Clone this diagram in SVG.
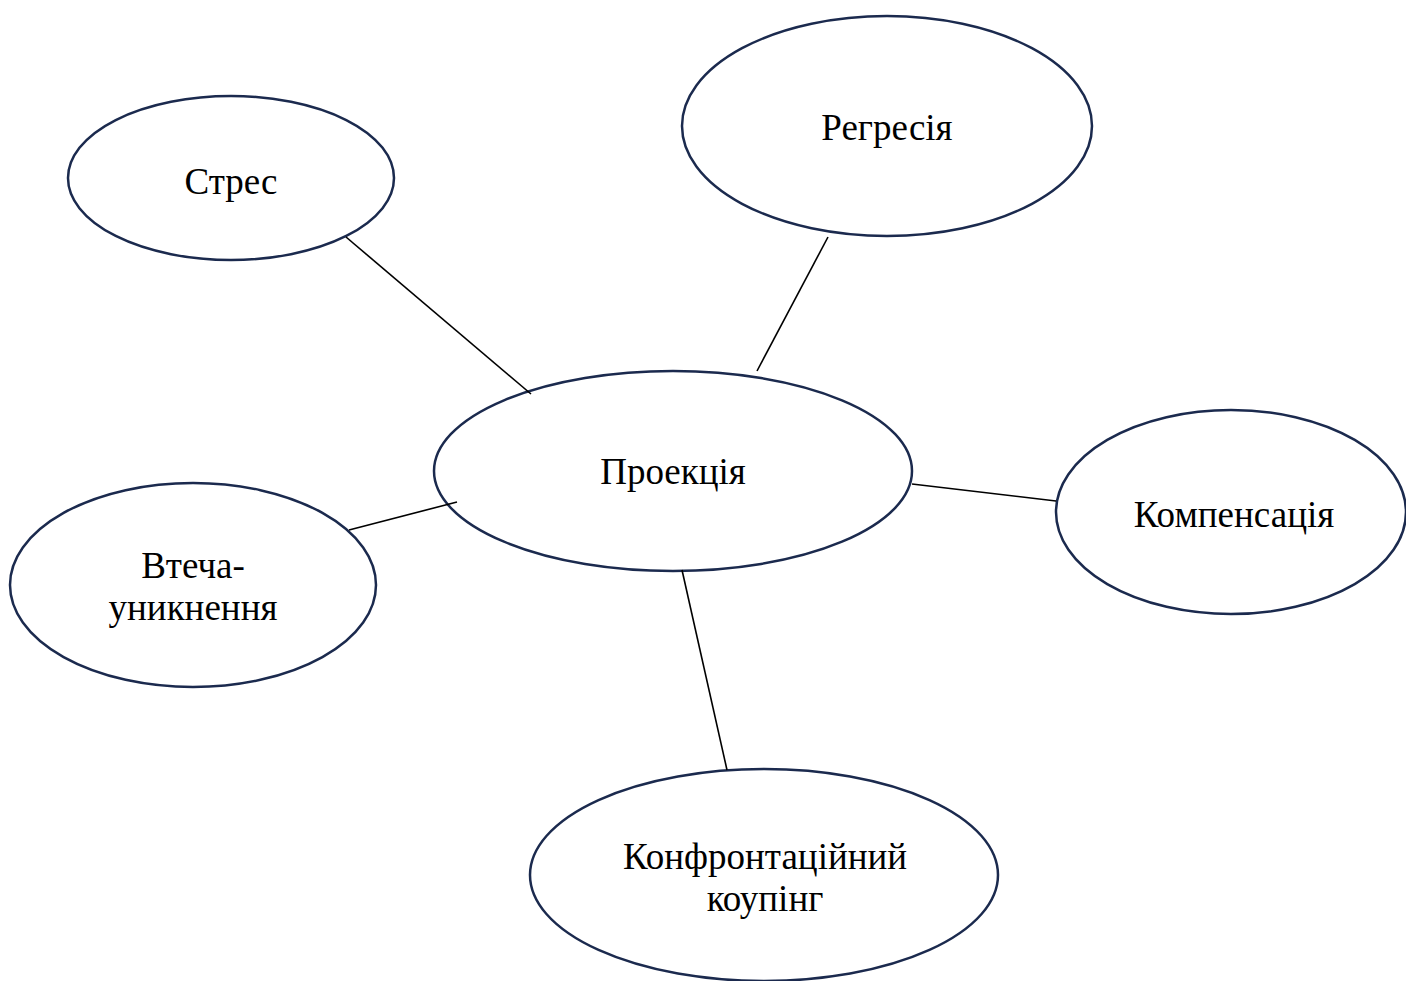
<svg xmlns="http://www.w3.org/2000/svg" width="1406" height="981" viewBox="0 0 1406 981">
<style>
.n{fill:#fff;stroke:#1b2a4e;stroke-width:2.5}
.t{font-family:"Liberation Serif","Times New Roman",serif;font-size:37px;fill:#000;text-anchor:middle}
.c{stroke:#000;stroke-width:1.6;fill:none}
</style>
<rect width="1406" height="981" fill="#fff"/>
<g id="stress"><ellipse class="n" cx="231" cy="178" rx="163" ry="82"/><text class="t" x="231" y="194">Стрес</text></g>
<g id="regression"><ellipse class="n" cx="887" cy="126" rx="205" ry="110"/><text class="t" x="887" y="140">Регресія</text></g>
<g id="projection"><ellipse class="n" cx="673" cy="471" rx="239" ry="100"/><text class="t" x="673" y="484">Проекція</text></g>
<g id="compensation"><ellipse class="n" cx="1231" cy="512" rx="175" ry="102"/><text class="t" x="1234" y="527">Компенсація</text></g>
<g id="escape"><ellipse class="n" cx="193" cy="585" rx="183" ry="102"/><text class="t" x="193" y="578">Втеча-</text><text class="t" x="193" y="620">уникнення</text></g>
<g id="confrontation"><ellipse class="n" cx="764" cy="875" rx="234" ry="106"/><text class="t" x="765" y="869">Конфронтаційний</text><text class="t" x="765" y="911">коупінг</text></g>
<g id="connectors">
<line class="c" x1="346" y1="237" x2="531" y2="394"/>
<line class="c" x1="828" y1="237" x2="757" y2="371"/>
<line class="c" x1="912" y1="484" x2="1056" y2="501"/>
<line class="c" x1="349" y1="530" x2="457" y2="502"/>
<line class="c" x1="682" y1="570" x2="727" y2="770"/>
</g>
</svg>
